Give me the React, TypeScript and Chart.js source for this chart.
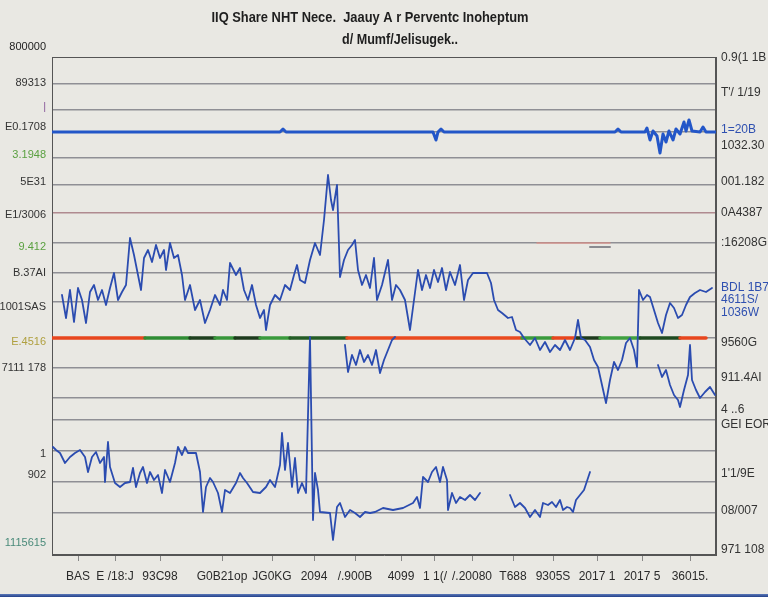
import React, { useEffect, useRef } from "react";
import { Chart, registerables } from "chart.js";
Chart.register(...registerables);

const TITLE_LINES = ["IIQ Share NHT Nece.  Jaauy A r Perventc Inoheptum", "d/ Mumf/Jelisugek.."];

// Top flat series (level units)
const TOP_X = [0, 228, 231, 234, 381, 384, 386, 389, 392, 563, 566, 569, 593, 595, 598, 601, 605, 608, 611, 614, 617, 621, 624, 628, 632, 634, 637, 640, 648, 651, 654, 664];
const TOP_Y = [423, 423, 426, 423, 423, 415, 423, 426, 423, 423, 426, 423, 423, 427, 415, 424, 419, 402, 421, 413, 424, 415, 426, 421, 433, 424, 435, 424, 423, 428, 423, 423];

// Middle series
const MID_X = [
  10, 14, 18, 22, 26, 30, 34, 38, 42, 46,
  50, 54, 58, 62, 66, 70, 74, 78, 82, 86,
  89, 92, 96, 100, 104, 108, 112, 114, 118, 122,
  126, 130, 133, 138, 143, 148, 153, 158, 163, 168,
  171, 175, 178, 184, 188, 192, 196, 200, 204, 208,
  212, 214, 218, 223, 228, 233, 238, 242, 245, 248,
  253, 258, 263, 268, 272, 276, 279, 281, 285, 288,
  292, 296, 300, 303, 306, 310, 314, 318, 322, 325,
  330, 336, 340, 344, 348, 353, 358, 362, 366, 370,
  374, 378, 382, 386, 390, 394, 398, 403, 408, 412,
  416, 421, 428, 435, 439, 442, 446, 450, 456, 460,
  464, 468, 472, 478, 483, 488, 493, 498, 503, 508,
  513, 518, 523, 526, 529, 533, 538, 542, 546, 550,
  554, 558, 562, 566, 570, 574, 578, 582, 585, 587,
  591, 595, 598, 602, 606, 610, 614, 618, 622, 626,
  630, 634, 638, 643, 648, 654, 660,
];
const MID_Y = [
  260, 237, 265, 233, 267, 255, 232, 263, 270, 255,
  265, 250, 267, 282, 255, 263, 270, 317, 300, 280,
  265, 297, 305, 293, 310, 297, 305, 285, 312, 297,
  300, 280, 255, 270, 245, 255, 232, 245, 260, 250,
  265, 255, 292, 280, 287, 265, 255, 270, 250, 237,
  245, 225, 250, 260, 255, 270, 265, 280, 290, 275,
  272, 295, 312, 300, 335, 380, 355, 345, 370, 278,
  295, 305, 310, 315, 285, 270, 280, 267, 297, 255,
  270, 295, 255, 270, 265, 255, 225, 255, 285, 265,
  280, 267, 285, 273, 287, 265, 283, 270, 290, 255,
  275, 282, 282, 282, 272, 255, 245, 242, 237, 238,
  225, 223, 217, 210, 217, 205, 213, 203, 210, 205,
  215, 205, 217, 235, 217, 215, 208, 195, 188, 170,
  152, 175, 193, 185, 195, 212, 217, 205, 188, 265,
  255, 260, 258, 245, 232, 222, 240, 252, 247, 237,
  240, 250, 258, 262, 265, 263, 267,
];

// Lower-middle series (with a gap)
const LOW_X = [293, 296, 300, 304, 308, 312, 316, 320, 324, 328, 332, 336, 340, 343, 500, 606, 610, 614, 618, 622, 626, 628, 632, 636, 638, 640, 644, 648, 653, 658, 663];
const LOW_Y = [210, 183, 200, 190, 205, 193, 200, 190, 205, 182, 195, 205, 215, 218, null, 190, 178, 185, 170, 160, 155, 148, 165, 180, 210, 175, 165, 157, 163, 168, 160];

// Bottom series (with a gap)
const BOT_X = [
  1, 4, 8, 13, 18, 23, 28, 33, 36, 40,
  44, 48, 52, 53, 56, 58, 63, 68, 73, 78,
  81, 84, 88, 91, 95, 98, 102, 106, 110, 113,
  118, 123, 126, 130, 133, 136, 144, 148, 151, 154,
  158, 161, 166, 170, 173, 178, 184, 188, 191, 195,
  201, 208, 214, 218, 223, 228, 230, 233, 236, 240,
  243, 246, 250, 254, 258, 261, 263, 266, 268, 278,
  281, 285, 288, 293, 298, 303, 308, 313, 318, 323,
  331, 341, 351, 361, 365, 368, 371, 376, 380, 384,
  388, 391, 395, 396, 400, 404, 408, 413, 418, 423,
  428, 440,
  458, 463, 468, 473, 478, 483, 488, 491,
  496, 500, 504, 508, 511, 515, 518, 521, 524, 528,
  532, 538,
];
const BOT_Y = [
  108, 105, 102, 92, 98, 102, 105, 98, 83, 98,
  103, 92, 98, 73, 113, 88, 72, 68, 72, 73,
  87, 68, 82, 88, 72, 83, 75, 80, 62, 85,
  73, 92, 108, 100, 108, 102, 102, 83, 43, 68,
  77, 73, 62, 43, 65, 62, 72, 82, 77, 72,
  63, 62, 68, 75, 68, 90, 122, 85, 112, 68,
  97, 62, 72, 62, 218, 35, 82, 65, 43, 42,
  15, 48, 52, 38, 45, 42, 38, 43, 42, 43,
  47, 45, 47, 52, 58, 47, 78, 73, 83, 88,
  73, 88, 75, 45, 62, 52, 58, 55, 60, 55,
  62, null,
  60, 48, 52, 47, 38, 45, 38, 52,
  50, 53, 48, 55, 45, 48, 47, 43, 55, 60,
  65, 83,
];

// Coloured reference band
const BAND_X = [0, 93, 138, 163, 183, 208, 238, 295, 470, 501, 525, 548, 588, 628, 654];
const BAND_Y = [217, 217, 217, 217, 217, 217, 217, 217, 217, 217, 217, 217, 217, 217, 217];
const BAND_COLORS = ["#e8461e", "#2f8c34", "#1e3f1e", "#37963a", "#1c3a1c", "#3a9a3c", "#245c26", "#ea4a1f", "#3a9a3c", "#e8461e", "#1d3a1d", "#3fa040", "#1e4a20", "#e8461e"];

const PINK_X = [485, 558];
const PINK_Y = [312, 312];
const DASH_X = [538, 558];
const DASH_Y = [308, 308];

const GRID_LEVELS = [471, 445, 423, 397, 370, 342, 312, 282, 253, 217, 187, 157, 135, 104, 73, 42];

const YL_TICKS = [508, 472, 448, 428, 400, 373, 340, 308, 282, 248, 213, 187, 101, 80, 12];
const YL_LABELS = ["800000", "89313", "|", "E0.1708", "3.1948", "5E31", "E1/3006", "9.412", "B.37AI", "1001SAS", "E.4516", "7111 178", "1", "902", "1115615"];
const YL_COLORS = ["#222", "#333", "#8a5a9a", "#333", "#5aa040", "#333", "#333", "#5aa040", "#333", "#333", "#b0a040", "#333", "#333", "#333", "#4a8a7a"];

const YR_TICKS = [497, 462, 425, 409, 373, 342, 312, 267, 255, 242, 212, 177, 145, 130, 81, 44, 5];
const YR_LABELS = ["0.9(1 1B", "T'/ 1/19", "1=20B", "1032.30", "001.182", "0A4387", ":16208G", "BDL 1B7", "4611S/", "1036W", "9560G", "911.4AI", "4 ..6", "GEI EORE", "1'1/9E", "08/007", "971 108"];
const YR_COLORS = ["#333", "#333", "#2f50b0", "#333", "#333", "#333", "#333", "#2f50b0", "#2f50b0", "#2f50b0", "#333", "#333", "#333", "#333", "#333", "#333", "#333"];

const X_TICKS = [26, 63, 108, 170, 220, 262, 303, 349, 383, 420, 461, 501, 545, 590, 638];
const X_LABELS = ["BAS", "E /18:J", "93C98", "G0B21op", "JG0KG", "2094", "/.900B", "4099", "1 1(/", "/.20080", "T688", "9305S", "2017 1", "2017 5", "36015."];

const zip = (xs: number[], ys: (number | null)[]) => xs.map((x, i) => ({ x, y: ys[i] }));

const FONT = "'Liberation Sans', Arial, sans-serif";

export default function App() {
  const ref = useRef<HTMLCanvasElement>(null);
  useEffect(() => {
    document.body.style.margin = "0";
    const canvas = ref.current!;
    const deco = {
      id: "deco",
      beforeDraw(chart: any) {
        const { ctx, width, height } = chart;
        ctx.save();
        ctx.fillStyle = "#e9e8e3";
        ctx.fillRect(0, 0, width, height);
        ctx.restore();
      },
      beforeDatasetsDraw(chart: any) {
        const { ctx, chartArea: a } = chart;
        ctx.save();
        ctx.strokeStyle = "#555";
        ctx.lineWidth = 1;
        ctx.strokeRect(a.left + 0.5, a.top + 0.5, a.right - a.left - 1, a.bottom - a.top - 1);
        ctx.restore();
      },
      afterDraw(chart: any) {
        const ctx = chart.ctx;
        const widths = [317, 116];
        const centers = [370, 400];
        const ys = [18, 40];
        ctx.save();
        ctx.fillStyle = "#1e1e1e";
        ctx.font = "bold 14px " + FONT;
        ctx.textBaseline = "middle";
        TITLE_LINES.forEach((t, i) => {
          const w = ctx.measureText(t).width;
          ctx.save();
          ctx.translate(centers[i] - widths[i] / 2, ys[i]);
          ctx.scale(widths[i] / w, 1);
          ctx.fillText(t, 0, 0);
          ctx.restore();
        });
        ctx.restore();
      },
    };

    const line = (label: string, xs: number[], ys: (number | null)[], color: string, width: number, order: number) => ({
      label,
      data: zip(xs, ys),
      borderColor: color,
      borderWidth: width,
      order,
      spanGaps: false,
    });

    const chart = new Chart(canvas, {
      type: "line",
      data: {
        datasets: [
          line("top", TOP_X, TOP_Y, "#2356c8", 3, 1),
          line("mid", MID_X, MID_Y, "#2b4cb0", 1.8, 2),
          line("low", LOW_X, LOW_Y, "#2b4cb0", 1.8, 3),
          line("bottom", BOT_X, BOT_Y, "#2b4cb0", 1.8, 4),
          {
            label: "band",
            data: zip(BAND_X, BAND_Y),
            borderWidth: 3.5,
            borderColor: "#e8461e",
            segment: { borderColor: (c: any) => BAND_COLORS[c.p0DataIndex] },
            order: 6,
          },
          line("pink", PINK_X, PINK_Y, "rgba(232,140,130,0.7)", 1.5, 7),
          line("dash", DASH_X, DASH_Y, "#8a8a90", 2, 7),
        ] as any,
      },
      options: {
        animation: false,
        responsive: false,
        elements: {
          point: { radius: 0 },
          line: { tension: 0, borderJoinStyle: "round", borderCapStyle: "round" },
        },
        layout: { padding: { top: 57, left: 0, right: 0, bottom: 0 } },
        plugins: { legend: { display: false }, title: { display: false }, tooltip: { enabled: false } },
        scales: {
          x: {
            type: "linear",
            min: 0,
            max: 664,
            bounds: "data",
            afterBuildTicks: (s: any) => { s.ticks = X_TICKS.map((v) => ({ value: v })); },
            afterFit: (s: any) => { s.height = 42; },
            ticks: {
              autoSkip: false,
              maxRotation: 0,
              minRotation: 0,
              padding: 8,
              color: "#2a2a2a",
              font: { family: FONT, size: 12 },
              callback: (_v: any, i: number) => X_LABELS[i],
            },
            grid: { drawOnChartArea: false, tickLength: 6, color: "#888" },
            border: { color: "#555" },
          },
          yg: {
            type: "linear",
            position: "left",
            min: 0,
            max: 498,
            bounds: "data",
            afterBuildTicks: (s: any) => { s.ticks = GRID_LEVELS.map((v) => ({ value: v })); },
            afterFit: (s: any) => { s.width = 0; },
            ticks: { display: false },
            grid: {
              color: (c: any) => (c.tick && c.tick.value === 342 ? "#b08a90" : "#8f8f95"),
              lineWidth: 1.4,
              drawTicks: false,
            },
            border: { display: false },
          },
          y: {
            type: "linear",
            position: "left",
            min: 0,
            max: 498,
            bounds: "data",
            afterBuildTicks: (s: any) => { s.ticks = YL_TICKS.map((v) => ({ value: v })); },
            afterFit: (s: any) => { s.width = 52; },
            ticks: {
              padding: 6,
              color: (c: any) => YL_COLORS[c.index] || "#333",
              font: { family: FONT, size: 11 },
              callback: (_v: any, i: number) => YL_LABELS[i],
            },
            grid: { display: true, drawOnChartArea: false, drawTicks: false },
            border: { color: "#555" },
          },
          yR: {
            type: "linear",
            position: "right",
            min: 0,
            max: 498,
            bounds: "data",
            afterBuildTicks: (s: any) => { s.ticks = YR_TICKS.map((v) => ({ value: v })); },
            afterFit: (s: any) => { s.width = 52; },
            ticks: {
              padding: 5,
              color: (c: any) => YR_COLORS[c.index] || "#333",
              font: { family: FONT, size: 12 },
              callback: (_v: any, i: number) => YR_LABELS[i],
            },
            grid: { display: true, drawOnChartArea: false, drawTicks: false },
            border: { color: "#555" },
          },
        },
      } as any,
      plugins: [deco],
    });
    return () => chart.destroy();
  }, []);

  return (
    <div style={{ position: "fixed", left: 0, top: 0, width: 768, height: 597 }}>
      <canvas ref={ref} width={768} height={597} style={{ display: "block" }} />
      <div style={{ position: "absolute", left: 0, bottom: 0, width: 768, height: 3, background: "linear-gradient(#5a78b8,#23408a)" }} />
    </div>
  );
}
